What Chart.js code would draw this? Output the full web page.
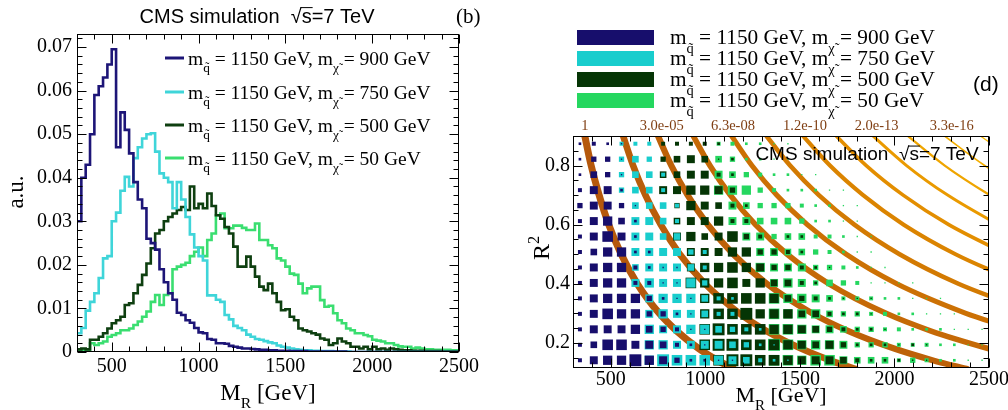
<!DOCTYPE html>
<html>
<head>
<meta charset="utf-8">
<title>Razor M_R and R^2 for four mass points</title>
<script src="https://cdn.jsdelivr.net/npm/chart.js@4.4.1/dist/chart.umd.min.js"></script>
<style>
  html, body { margin: 0; padding: 0; background: #fff; }
  #wrap { position: relative; width: 1008px; height: 410px; overflow: hidden; }
  #left { position: absolute; left: 0; top: 0; }
  #right { position: absolute; left: 504px; top: 0; }
</style>
</head>
<body>
<div id="wrap">
  <canvas id="left" width="504" height="410"></canvas>
  <canvas id="right" width="504" height="410"></canvas>
</div>
<script>
// ---- data ----
const squarkMass = 1150;
const lspMass = [900, 750, 500, 50];

// M_R histograms: 25 GeV bins starting at 300 GeV
const mrStart = 300, mrBin = 25;
const mrHist900 = [
  0.030, 0.040, 0.043, 0.050, 0.059, 0.061, 0.063, 0.066, 0.0695, 0.047,
  0.055, 0.051, 0.0456, 0.039, 0.035, 0.033, 0.026, 0.025, 0.0235, 0.019,
  0.016, 0.0135, 0.012, 0.009, 0.0085, 0.0073, 0.0067, 0.0055, 0.0045, 0.0043,
  0.003, 0.0028, 0.002, 0.002, 0.0019, 0.0014, 0.0012, 0.001, 0.0008, 0.0008,
  0.0007, 0.0006, 0.0005, 0.0005, 0.0004, 0.0004, 0.0003, 0.0003, 0.0003, 0.0002,
  0.0002, 0.0002, 0.0002, 0.0001, 0.0001, 0.0001, 0.0001, 0.0001, 0.0001, 0.0001,
  0.0001, 0.0001, 0, 0, 0, 0, 0, 0, 0, 0,
  0, 0, 0, 0, 0, 0, 0, 0, 0, 0,
  0, 0, 0, 0, 0, 0, 0, 0
];
const mrHist750 = [
  0.0043, 0.0055, 0.0095, 0.0115, 0.0135, 0.017, 0.0215, 0.022, 0.030, 0.032,
  0.037, 0.0402, 0.038, 0.0445, 0.047, 0.049, 0.050, 0.0502, 0.046, 0.041,
  0.040, 0.039, 0.033, 0.039, 0.035, 0.031, 0.027, 0.024, 0.022, 0.021,
  0.013, 0.013, 0.012, 0.0115, 0.0085, 0.0075, 0.006, 0.0055, 0.005, 0.004,
  0.0035, 0.003, 0.0028, 0.0025, 0.0022, 0.002, 0.0015, 0.0012, 0.001, 0.0008,
  0.0006, 0.0005, 0.0004, 0.0004, 0.0003, 0.0003, 0.0002, 0.0002, 0.0002, 0.0001,
  0.0001, 0.0001, 0.0001, 0, 0, 0, 0, 0, 0, 0,
  0, 0, 0, 0, 0, 0, 0, 0, 0, 0,
  0, 0, 0, 0, 0, 0, 0, 0
];
const mrHist500 = [
  0.0006, 0.0008, 0.0006, 0.0028, 0.0028, 0.0035, 0.0043, 0.0054, 0.0066, 0.0073,
  0.0081, 0.0108, 0.0112, 0.0135, 0.0154, 0.0177, 0.0203, 0.0238, 0.0272, 0.028,
  0.030, 0.031, 0.0318, 0.0326, 0.0333, 0.0326, 0.038, 0.033, 0.034, 0.033,
  0.0364, 0.0335, 0.0314, 0.0306, 0.0287, 0.0272, 0.0242, 0.0196, 0.0196, 0.0219,
  0.0196, 0.0173, 0.015, 0.0142, 0.0157, 0.0135, 0.0115, 0.0096, 0.0098, 0.0081,
  0.0073, 0.0054, 0.005, 0.0047, 0.0043, 0.004, 0.0031, 0.0028, 0.0016, 0.002,
  0.0031, 0.0024, 0.002, 0.0012, 0.0012, 0.0008, 0.0012, 0.0006, 0.0012, 0.0006,
  0.0008, 0.0005, 0.0008, 0.0006, 0.0005, 0.0004, 0.0004, 0.0003, 0.0003, 0.0003,
  0.0002, 0.0002, 0.0002, 0.0002, 0.0001, 0.0001, 0.0001, 0.0001
];
const mrHist50 = [
  0.0005, 0.0005, 0.0005, 0.002, 0.0016, 0.002, 0.0024, 0.0035, 0.0039, 0.0043,
  0.005, 0.005, 0.0054, 0.0062, 0.007, 0.0081, 0.0093, 0.0115, 0.0131, 0.0108,
  0.0131, 0.0135, 0.019, 0.0196, 0.020, 0.0205, 0.022, 0.023, 0.024, 0.022,
  0.0257, 0.0272, 0.0314, 0.0318, 0.0284, 0.0284, 0.029, 0.029, 0.0285, 0.028,
  0.028, 0.0295, 0.0257, 0.0257, 0.0245, 0.0238, 0.0215, 0.021, 0.0196, 0.018,
  0.0177, 0.0157, 0.0135, 0.0146, 0.015, 0.015, 0.0119, 0.0104, 0.0106, 0.0089,
  0.0073, 0.0066, 0.0054, 0.005, 0.0043, 0.0043, 0.0039, 0.0036, 0.0028, 0.0026,
  0.0024, 0.002, 0.002, 0.0016, 0.0013, 0.0012, 0.0012, 0.0008, 0.001, 0.0008,
  0.0006, 0.0006, 0.0005, 0.0005, 0.0005, 0.0005, 0.0004, 0.0004
];

// R^2 vs M_R box histograms: 30 M_R bins x 15 R^2 bins.
// One string per R^2 row (top row first), one digit per M_R bin = box size 0..9
const boxMr = [300, 2500], boxR2 = [0.115, 0.9], boxCols = 30;
const boxes900 = [
  "2321", "2441", "2541", "3662", "46641", "36752", "36862", "357722",
  "36773211", "36773311", "367774211", "368774421", "3666754311",
  "3588665321", "367797642211"
];
const boxes750 = [
  "000333", "000454", "0004553", "0004553", "00005553", "00026653", "00006655",
  "0000666643", "0000566653", "0000676674", "000006777532", "000006766533",
  "00000766775432", "000007766665421", "0000079888765321"
];
const boxes500 = [
  "00000033332", "000000456512", "000000556632", "000000667764",
  "0000000476532", "0000000566733", "00000006756843022", "00000000666774432",
  "0000000067787644321", "000000008778675532", "0000000007888875432111",
  "0000000007889777553221", "00000000089888776543221",
  "00000000089988876564222121", "00000000008998876665322211"
];
const boxes50 = [
  "0000000000332211", "0000000000542211", "000000000065432211",
  "00000000007774322211", "000000000006544432211", "000000000006655542211",
  "0000000000006645533211", "0000000000000665543211", "00000000000007666443211",
  "0000000000000067645431111", "000000000000008776533322111",
  "0000000000000087775443322111", "000000000000008876654433222111",
  "000000000000009877764443332211", "000000000000008878865553432211"
];

// fit contours, [M_R, R^2] points along each band (left to right)
const contours = [
  [[356,0.92],[396,0.8],[438,0.7],[489,0.6],[555,0.5],[640,0.4],[756,0.3],[849,0.24],[967,0.18],[1067,0.14],[1156,0.11]],
  [[555,0.92],[618,0.8],[683,0.7],[764,0.6],[865,0.5],[998,0.4],[1180,0.3],[1324,0.24],[1509,0.18],[1664,0.14],[1803,0.11]],
  [[736,0.92],[820,0.8],[906,0.7],[1013,0.6],[1148,0.5],[1325,0.4],[1565,0.3],[1757,0.24],[2002,0.18],[2208,0.14],[2392,0.11]],
  [[919,0.92],[1024,0.8],[1132,0.7],[1265,0.6],[1433,0.5],[1654,0.4],[1955,0.3],[2194,0.24],[2500,0.18],[2600,0.163]],
  [[1118,0.92],[1246,0.8],[1377,0.7],[1539,0.6],[1744,0.5],[2012,0.4],[2378,0.3],[2600,0.253]],
  [[1299,0.92],[1448,0.8],[1600,0.7],[1788,0.6],[2027,0.5],[2338,0.4],[2600,0.335]],
  [[1489,0.92],[1659,0.8],[1834,0.7],[2049,0.6],[2323,0.5],[2600,0.42]],
  [[1662,0.92],[1851,0.8],[2046,0.7],[2287,0.6],[2600,0.498]],
  [[1852,0.92],[2064,0.8],[2281,0.7],[2549,0.6],[2600,0.583]],
  [[2033,0.92],[2266,0.8],[2504,0.7],[2600,0.665]],
  [[2223,0.92],[2477,0.8],[2600,0.75]],
  [[2410,0.92],[2600,0.835]]
];
const contourLabels = ['1', '3.0e-05', '6.3e-08', '1.2e-10', '2.0e-13', '3.3e-16'];
const contourLabelMr = [363, 769, 1146, 1527, 1906, 2303];

const mrTicks = [500, 1000, 1500, 2000, 2500];
const auTicks = [0, 0.01, 0.02, 0.03, 0.04, 0.05, 0.06, 0.07];
const r2Ticks = [0.2, 0.4, 0.6, 0.8];

// ---- styles ----
const lineColors = ['#1d1577', '#3fd5d9', '#0e3f10', '#3ade70'];
const boxColors = ['#170e6c', '#19cdcd', '#053505', '#25d75f'];
const contourColors = ['#b5580c', '#b95d0a', '#bd6108', '#c56906', '#cc7104', '#d37a02',
                       '#db8400', '#e38e00', '#ea9a00', '#efa500', '#f3ae00', '#f6b700'];
const contourWidths = [7, 6.6, 6.2, 5.6, 5.1, 4.6, 4.1, 3.6, 3, 2.3, 1.7, 1.3];
const boxFill = 0.86;   // largest box side as a fraction of the bin width
const serif = '"Liberation Serif", "Times New Roman", serif';
const sans = '"Liberation Sans", Arial, sans-serif';

// ---- drawing helpers ----

// text made of plain pieces and ['txt','sub'|'sup'] pieces, drawn on an alphabetic baseline
function richText(ctx, parts, x, y, size, align, subDrop) {
  const segs = parts.map(p => {
    const [t, kind] = Array.isArray(p) ? p : [p, null];
    const s = kind ? size * 0.68 : size;
    ctx.font = s + 'px ' + serif;
    return { t, kind, s, w: ctx.measureText(t).width };
  });
  const total = segs.reduce((a, s) => a + s.w, 0);
  let cx = align === 'center' ? x - total / 2 : x;
  ctx.textAlign = 'left';
  ctx.textBaseline = 'alphabetic';
  segs.forEach(s => {
    ctx.font = s.s + 'px ' + serif;
    const dy = s.kind === 'sub' ? subDrop : s.kind === 'sup' ? -size * 0.42 : 0;
    ctx.fillText(s.t, cx, y + dy);
    cx += s.w;
  });
}

// "CMS simulation  \u221As=7 TeV" with a bar over the s
function cmsLabel(ctx, cx, cy, size) {
  ctx.font = size + 'px ' + sans;
  ctx.textBaseline = 'middle';
  ctx.textAlign = 'left';
  const a = 'CMS simulation  ', r = '\u221A', b = 's=7 TeV';
  const wa = ctx.measureText(a).width, wr = ctx.measureText(r).width;
  const ws = ctx.measureText('s').width, wb = ctx.measureText(b).width;
  const x0 = cx - (wa + wr + wb) / 2;
  ctx.fillStyle = '#000';
  ctx.fillText(a, x0, cy);
  ctx.fillText(r, x0 + wa, cy);
  ctx.fillText(b, x0 + wa + wr, cy);
  ctx.strokeStyle = '#000';
  ctx.lineWidth = 1;
  const yb = cy - size * 0.47;
  ctx.beginPath();
  ctx.moveTo(x0 + wa + wr - 1, yb);
  ctx.lineTo(x0 + wa + wr + ws + 1, yb);
  ctx.stroke();
}

// frame with inward ticks on all four sides
function frameWithTicks(ctx, area, xs, ys, xMinor, xIsMajor, yMinor, yIsMajor) {
  ctx.strokeStyle = '#000';
  ctx.lineWidth = 1;
  const L = Math.round(area.left) + 0.5, R = Math.round(area.right) - 0.5;
  const T = Math.round(area.top) + 0.5, B = Math.round(area.bottom) - 0.5;
  ctx.strokeRect(L, T, R - L, B - T);
  ctx.beginPath();
  xMinor.forEach(v => {
    const p = Math.round(xs.getPixelForValue(v)) + 0.5;
    const len = xIsMajor(v) ? 9 : 5;
    ctx.moveTo(p, B); ctx.lineTo(p, B - len);
    ctx.moveTo(p, T); ctx.lineTo(p, T + len);
  });
  yMinor.forEach(v => {
    const p = Math.round(ys.getPixelForValue(v)) + 0.5;
    const len = yIsMajor(v) ? 9 : 5;
    ctx.moveTo(L, p); ctx.lineTo(L + len, p);
    ctx.moveTo(R, p); ctx.lineTo(R - len, p);
  });
  ctx.stroke();
}

function legendParts(i) {
  return ['m', ['q\u0303', 'sub'], ' = ' + squarkMass + ' GeV, m', ['\u03C7\u0303', 'sub'], ' = ' + lspMass[i] + ' GeV'];
}

// ---- left: M_R distributions ----
function histPoints(values) {
  const pts = values.map((v, k) => ({ x: mrStart + k * mrBin, y: v }));
  pts.push({ x: mrStart + values.length * mrBin, y: values[values.length - 1] });
  return pts;
}

const mrHists = [mrHist900, mrHist750, mrHist500, mrHist50];

const leftDecor = {
  id: 'leftDecor',
  afterDraw(chart) {
    const ctx = chart.ctx, area = chart.chartArea;
    const xs = chart.scales.x, ys = chart.scales.y;
    ctx.save();
    const xMinor = [];
    for (let v = 300; v <= 2500; v += 100) xMinor.push(v);
    const yMinor = [];
    for (let i = 0; i * 0.002 < 0.073; i++) yMinor.push(i * 0.002);
    frameWithTicks(ctx, area, xs, ys, xMinor, v => v % 500 === 0,
                   yMinor, v => Math.round(v * 1000) % 10 === 0);

    ctx.fillStyle = '#000';
    ctx.font = '20px ' + serif;
    ctx.textBaseline = 'middle';
    ctx.textAlign = 'right';
    auTicks.forEach(v => ctx.fillText(String(v), area.left - 5, ys.getPixelForValue(v)));
    ctx.textAlign = 'center';
    mrTicks.forEach(v => ctx.fillText(String(v), xs.getPixelForValue(v), 367));

    richText(ctx, ['M', ['R', 'sub'], ' [GeV]'], (area.left + area.right) / 2, 400, 23, 'center', 8);
    ctx.save();
    ctx.translate(16, 192);
    ctx.rotate(-Math.PI / 2);
    richText(ctx, ['a.u.'], 0, 7, 23, 'center', 0);
    ctx.restore();

    cmsLabel(ctx, 257, 17, 20);
    ctx.font = '21px ' + serif;
    ctx.textAlign = 'left';
    ctx.textBaseline = 'middle';
    ctx.fillText('(b)', 456, 17);

    // legend
    const rows = [58, 92, 125, 158];
    rows.forEach((y, i) => {
      ctx.strokeStyle = lineColors[i];
      ctx.lineWidth = 3;
      ctx.beginPath();
      ctx.moveTo(165, y); ctx.lineTo(184, y);
      ctx.stroke();
      ctx.fillStyle = '#000';
      richText(ctx, legendParts(i), 188, y + 6.5, 19.5, 'left', 7);
    });
    ctx.restore();
  }
};

new Chart(document.getElementById('left'), {
  type: 'line',
  data: {
    datasets: mrHists.map((vals, i) => ({
      label: 'm_chi = ' + lspMass[i] + ' GeV',
      data: histPoints(vals),
      stepped: 'before',
      borderColor: lineColors[i],
      borderWidth: 2.6,
      borderJoinStyle: 'miter',
      pointRadius: 0,
      fill: false
    }))
  },
  options: {
    responsive: false,
    animation: false,
    events: [],
    layout: { padding: { left: 77, right: 45, top: 34, bottom: 58 } },
    scales: {
      x: { type: 'linear', min: 300, max: 2500, display: false },
      y: { type: 'linear', min: 0, max: 0.073, display: false }
    },
    plugins: { legend: { display: false }, tooltip: { enabled: false } }
  },
  plugins: [leftDecor]
});

// ---- right: R^2 vs M_R boxes ----
const boxDx = (boxMr[1] - boxMr[0]) / boxCols;

function boxPoints(rows) {
  const nRows = rows.length;
  const dy = (boxR2[1] - boxR2[0]) / nRows;
  const pts = [];
  rows.forEach((row, i) => {
    const r = nRows - 1 - i;
    row.padEnd(boxCols, '0').split('').forEach((ch, c) => {
      const v = +ch;
      if (v > 0) pts.push({ x: boxMr[0] + (c + 0.5) * boxDx, y: boxR2[0] + (r + 0.5) * dy, v });
    });
  });
  return pts;
}

const boxSets = [boxes900, boxes750, boxes500, boxes50];

const rightDecor = {
  id: 'rightDecor',
  afterDraw(chart) {
    const ctx = chart.ctx, area = chart.chartArea;
    const xs = chart.scales.x, ys = chart.scales.y;
    ctx.save();
    const xMinor = [];
    for (let v = 300; v <= 2500; v += 100) xMinor.push(v);
    const yMinor = [];
    for (let i = 3; i * 0.05 < 0.899; i++) yMinor.push(i * 0.05);
    frameWithTicks(ctx, area, xs, ys, xMinor, v => v % 500 === 0,
                   yMinor, v => Math.round(v * 100) % 20 === 0);

    ctx.fillStyle = '#000';
    ctx.font = '20px ' + serif;
    ctx.textBaseline = 'middle';
    ctx.textAlign = 'right';
    r2Ticks.forEach(v => ctx.fillText(String(v), area.left - 3, ys.getPixelForValue(v)));
    ctx.textAlign = 'center';
    mrTicks.forEach(v => ctx.fillText(String(v), xs.getPixelForValue(v), 380));

    richText(ctx, ['M', ['R', 'sub'], ' [GeV]'], (area.left + area.right) / 2, 402, 22, 'center', 8);
    ctx.save();
    ctx.translate(37, 248);
    ctx.rotate(-Math.PI / 2);
    richText(ctx, ['R', ['2', 'sup']], 0, 8, 24, 'center', 0);
    ctx.restore();

    // contour values above the frame
    ctx.fillStyle = '#7f3e12';
    ctx.font = '14.5px ' + serif;
    ctx.textAlign = 'center';
    ctx.textBaseline = 'middle';
    contourLabels.forEach((t, i) => ctx.fillText(t, xs.getPixelForValue(contourLabelMr[i]), 126));

    cmsLabel(ctx, 363, 155, 19);
    ctx.font = '21px ' + sans;
    ctx.textAlign = 'left';
    ctx.textBaseline = 'middle';
    ctx.fillStyle = '#000';
    ctx.fillText('(d)', 469, 85);

    // legend
    const tops = [30, 51, 72, 93];
    tops.forEach((t, i) => {
      ctx.fillStyle = boxColors[i];
      ctx.fillRect(73, t, 77, 15);
      ctx.fillStyle = '#000';
      richText(ctx, legendParts(i), 166, t + 14, 21.3, 'left', 9);
    });
    ctx.restore();
  }
};

const boxDatasets = boxSets.map((rows, i) => ({
  type: 'scatter',
  label: 'boxes ' + lspMass[i],
  data: boxPoints(rows),
  pointStyle: 'rect',
  backgroundColor: boxColors[i],
  borderWidth: 0,
  pointBorderWidth: 0,
  pointRadius: ctx => {
    const xs = ctx.chart.scales.x;
    const cell = xs.getPixelForValue(boxMr[0] + boxDx) - xs.getPixelForValue(boxMr[0]);
    return (ctx.raw ? ctx.raw.v : 0) / 9 * cell * boxFill / Math.SQRT2;
  },
  order: 0
}));

const contourDatasets = contours.map((pts, i) => ({
  type: 'line',
  label: 'contour ' + i,
  data: pts.map(([x, y]) => ({ x, y })),
  borderColor: contourColors[i],
  borderWidth: contourWidths[i],
  cubicInterpolationMode: 'monotone',
  pointRadius: 0,
  fill: false,
  order: 1
}));

new Chart(document.getElementById('right'), {
  type: 'scatter',
  data: { datasets: boxDatasets.concat(contourDatasets) },
  options: {
    responsive: false,
    animation: false,
    events: [],
    layout: { padding: { left: 69, right: 19, top: 136, bottom: 42 } },
    scales: {
      x: { type: 'linear', min: 300, max: 2500, display: false },
      y: { type: 'linear', min: boxR2[0], max: boxR2[1], display: false }
    },
    plugins: { legend: { display: false }, tooltip: { enabled: false } }
  },
  plugins: [rightDecor]
});
</script>
</body>
</html>
